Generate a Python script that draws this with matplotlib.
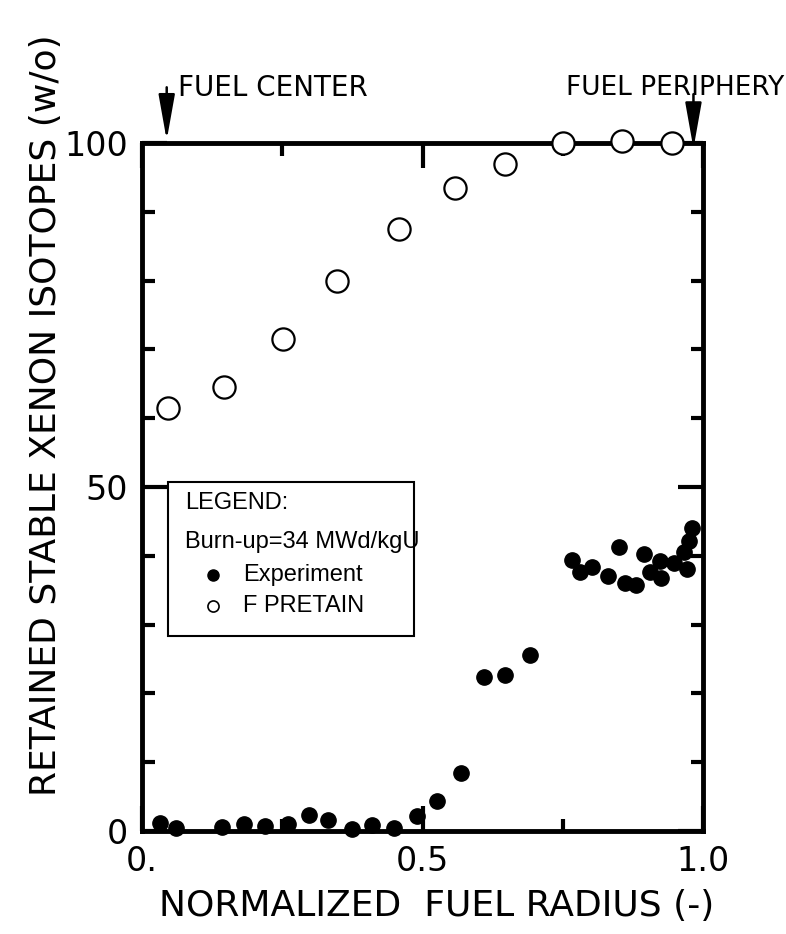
import numpy as np
import matplotlib
matplotlib.use("Agg")
from matplotlib import pyplot as plt

# FPRETAIN calculation (open circles)
calc_r = [0.046, 0.147, 0.252, 0.348, 0.458, 0.558, 0.647, 0.751, 0.856, 0.945]
calc_xe = [61.5, 64.5, 71.5, 80.0, 87.5, 93.5, 97.0, 100.0, 100.3, 100.0]

# measured (filled circles)
exp_r = [0.032, 0.060, 0.142, 0.181, 0.220, 0.260, 0.298, 0.332, 0.375, 0.410,
         0.450, 0.490, 0.526, 0.568, 0.609, 0.647, 0.691,
         0.766, 0.780, 0.803, 0.831, 0.851, 0.861, 0.881, 0.895, 0.906,
         0.923, 0.925, 0.948, 0.966, 0.972, 0.975, 0.980]
exp_xe = [1.2, 0.5, 0.6, 1.0, 0.7, 1.0, 2.3, 1.6, 0.3, 0.9,
          0.4, 2.2, 4.3, 8.4, 22.4, 22.7, 25.6,
          39.4, 37.7, 38.4, 37.0, 41.3, 36.1, 35.7, 40.3, 37.7,
          39.3, 36.7, 38.9, 40.6, 38.1, 42.2, 44.0]

plt.rcParams['font.family'] = ['DejaVu Sans']
leg_font = ['Liberation Sans', 'DejaVu Sans']

fig = plt.figure(figsize=(7.86, 9.34), dpi=100)
ax = fig.add_axes([0.1807, 0.1103, 0.7137, 0.7366])

ax.plot(calc_r, calc_xe, 'o', mfc='white', mec='black', mew=1.6,
        markersize=16, linestyle='none', clip_on=False, zorder=3)
ax.plot(exp_r, exp_xe, 'o', color='black', markersize=11,
        linestyle='none', clip_on=False, zorder=4)

ax.set_xlim(0.0, 1.0)
ax.set_ylim(0, 100)

ax.set_xticks([0.0, 0.5, 1.0])
ax.set_xticklabels(['0.', '0.5', '1.0'])
ax.set_xticks([0.25, 0.75], minor=True)
ax.set_yticks([0, 50, 100])
ax.set_yticks([10, 20, 30, 40, 60, 70, 80, 90], minor=True)

ax.tick_params(which='both', direction='in', top=True, right=True,
               width=3, labelsize=24, pad=10)
ax.tick_params(which='major', length=18)
ax.tick_params(which='minor', length=9)
for s in ax.spines.values():
    s.set_linewidth(3.5)

ax.set_xlabel('NORMALIZED  FUEL RADIUS (-)', fontsize=26)
ax.xaxis.set_label_coords(0.526, -0.085)
ax.set_ylabel('RETAINED STABLE XENON ISOTOPES (w/o)', fontsize=26)
ax.yaxis.set_label_coords(-0.14, 0.605)

# top markers
arrow = dict(arrowstyle='-|>,head_length=1.4,head_width=0.25', color='black',
             lw=1.8, mutation_scale=20)
ax.annotate('', xy=(0.044, 100), xytext=(0.044, 108.5),
            arrowprops=arrow, annotation_clip=False)
ax.text(0.064, 108.0, 'FUEL CENTER', fontsize=20, ha='left', va='center')
ax.annotate('', xy=(0.983, 98.8), xytext=(0.983, 107.5),
            arrowprops=arrow, annotation_clip=False)
ax.text(0.755, 108.0, 'FUEL PERIPHERY', fontsize=19, ha='left', va='center')

# legend box drawn by hand like the original
box = plt.Rectangle((0.047, 28.4), 0.437, 22.3, fill=False, lw=1.5,
                    edgecolor='black', zorder=5)
ax.add_patch(box)
ax.text(0.077, 47.7, 'LEGEND:', fontsize=17, va='center', family=leg_font)
ax.text(0.077, 42.0, 'Burn-up=34 MWd/kgU', fontsize=17, va='center', family=leg_font)
ax.plot([0.127], [37.2], 'o', color='black', markersize=8)
ax.text(0.18, 37.2, 'Experiment', fontsize=17, va='center', family=leg_font)
ax.plot([0.127], [32.7], 'o', mfc='white', mec='black', markersize=8, mew=1.2)
ax.text(0.18, 32.7, 'F PRETAIN', fontsize=17, va='center', family=leg_font)

fig.savefig('out.png', dpi=100)
